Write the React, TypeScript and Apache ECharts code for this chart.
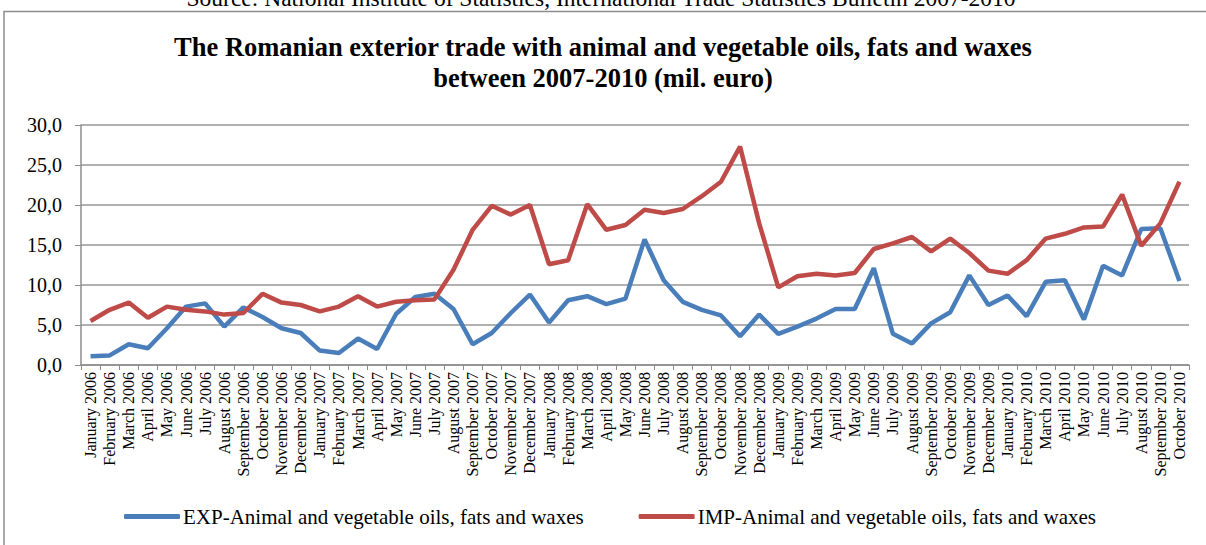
import React, { useEffect, useRef } from "react";
import * as echarts from "echarts";

const months = ["January", "February", "March", "April", "May", "June", "July", "August", "September", "October", "November", "December"];
const years = [2006, 2007, 2008, 2009, 2010];
const categories: string[] = [];
for (const y of years) {
  for (const m of months) {
    if (y === 2010 && (m === "November" || m === "December")) continue;
    categories.push(`${m} ${y}`);
  }
}

const expValues = [
  1.1, 1.2, 2.6, 2.1, 4.6, 7.3, 7.7, 4.8, 7.2, 6.0, 4.6, 4.0,
  1.8, 1.5, 3.3, 2.0, 6.4, 8.5, 8.9, 7.0, 2.6, 4.0, 6.5, 8.8,
  5.3, 8.1, 8.6, 7.6, 8.3, 15.7, 10.6, 7.9, 6.9, 6.2, 3.6, 6.3,
  3.9, 4.8, 5.8, 7.0, 7.0, 12.1, 3.9, 2.7, 5.2, 6.6, 11.2, 7.5,
  8.7, 6.1, 10.4, 10.6, 5.7, 12.4, 11.2, 17.0, 17.1, 10.5,
];

const impValues = [
  5.5, 6.9, 7.8, 5.9, 7.3, 6.9, 6.7, 6.3, 6.5, 8.9, 7.8, 7.5,
  6.7, 7.3, 8.6, 7.3, 7.9, 8.1, 8.2, 11.9, 16.9, 19.9, 18.8, 20.0,
  12.6, 13.1, 20.1, 16.9, 17.5, 19.4, 19.0, 19.5, 21.1, 22.9, 27.3, 17.7,
  9.7, 11.1, 11.4, 11.2, 11.5, 14.5, 15.2, 16.0, 14.2, 15.8, 14.0, 11.8,
  11.4, 13.1, 15.8, 16.4, 17.2, 17.3, 21.3, 14.9, 17.7, 22.9,
];

const seriesNames = [
  "EXP-Animal and vegetable oils, fats and waxes",
  "IMP-Animal and vegetable oils, fats and waxes",
];

const titleLines = [
  "The Romanian exterior trade with animal and vegetable oils, fats and waxes",
  "between 2007-2010 (mil. euro)",
];
const sourceText = "Source: National Institute of Statistics, International Trade Statistics Bulletin 2007-2010";

const FONT = "'Liberation Serif', 'Times New Roman', serif";

export default function App() {
  const ref = useRef<HTMLDivElement>(null);
  useEffect(() => {
    document.body.style.margin = "0";
    if (!ref.current) return;
    const chart = echarts.init(ref.current, null, { renderer: "svg" });
    chart.setOption({
      animation: false,
      backgroundColor: "#ffffff",
      textStyle: { fontFamily: FONT },
      title: {
        text: titleLines.join("\n"),
        left: "center",
        top: 26,
        textStyle: { fontFamily: FONT, fontSize: 26.5, fontWeight: "bold", color: "#000", lineHeight: 31 },
      },
      graphic: [
        {
          type: "rect",
          shape: { x: 4, y: 11.5, width: 1220, height: 560 },
          style: { fill: "none", stroke: "#8c8c8c", lineWidth: 1.5 },
          silent: true,
        },
        {
          type: "text",
          x: 601,
          y: -2,
          style: {
            text: sourceText,
            font: `23.5px ${FONT}`,
            fill: "#000",
            align: "center",
            verticalAlign: "middle",
          },
        },
      ],
      legend: {
        top: 506,
        left: 124,
        padding: 0,
        itemWidth: 56,
        itemHeight: 5,
        itemGap: 55,
        icon: "roundRect",
        textStyle: { fontFamily: FONT, fontSize: 21, color: "#000", padding: [0, 0, 0, -2] },
        data: seriesNames,
      },
      grid: { left: 81, right: 17, top: 125, bottom: 180, containLabel: false },
      xAxis: {
        type: "category",
        data: categories,
        boundaryGap: true,
        axisLine: { lineStyle: { color: "#8c8c8c", width: 1.5 } },
        axisTick: { show: true, alignWithLabel: false, interval: 0, length: 5, lineStyle: { color: "#8c8c8c" } },
        axisLabel: { interval: 0, rotate: 90, fontFamily: FONT, fontSize: 16, color: "#000", margin: 7 },
      },
      yAxis: {
        type: "value",
        min: 0,
        max: 30,
        interval: 5,
        axisLine: { show: true, lineStyle: { color: "#8c8c8c", width: 1.5 } },
        axisTick: { show: true, length: 6, lineStyle: { color: "#8c8c8c" } },
        splitLine: { lineStyle: { color: "#969696", width: 1.5 } },
        axisLabel: {
          fontFamily: FONT,
          fontSize: 20,
          color: "#000",
          margin: 19,
          formatter: (v: number) => v.toFixed(1).replace(".", ","),
        },
      },
      series: [
        {
          name: seriesNames[0],
          type: "line",
          data: expValues,
          symbol: "none",
          lineStyle: { color: "#4a7ebb", width: 4.5 },
          itemStyle: { color: "#4a7ebb" },
        },
        {
          name: seriesNames[1],
          type: "line",
          data: impValues,
          symbol: "none",
          lineStyle: { color: "#be4b48", width: 4.5 },
          itemStyle: { color: "#be4b48" },
        },
      ],
    });
    return () => chart.dispose();
  }, []);
  return <div ref={ref} style={{ width: 1206, height: 545 }} />;
}
